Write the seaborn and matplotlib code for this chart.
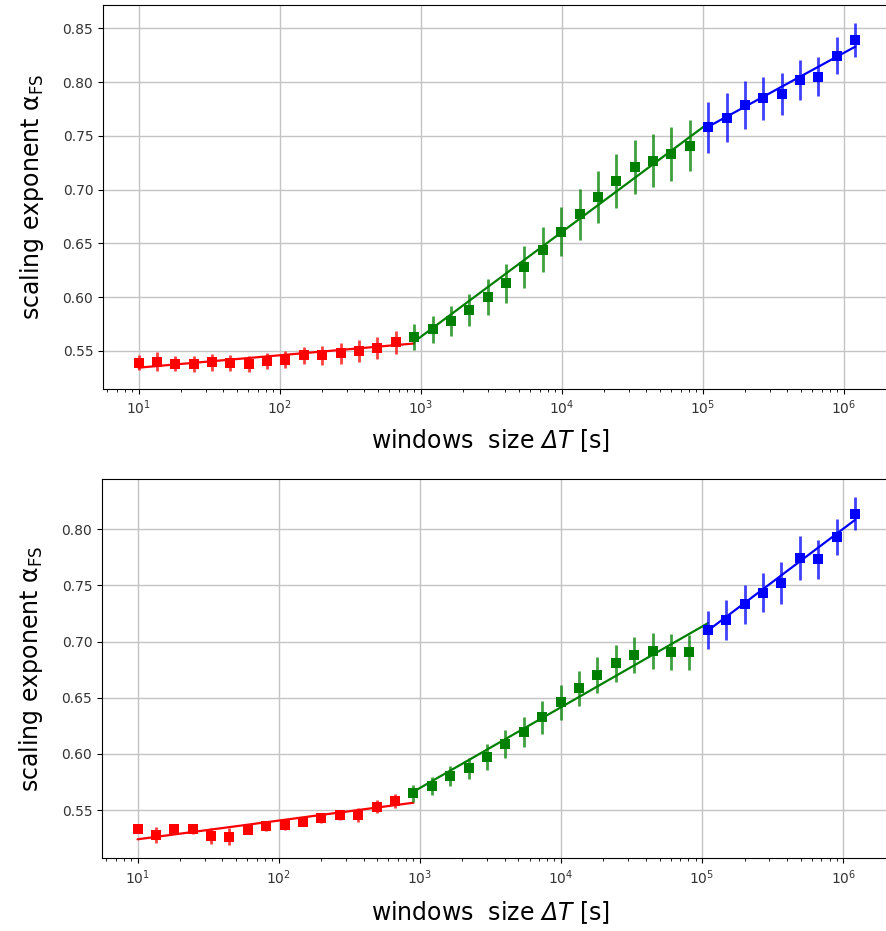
import numpy as np
import pandas as pd
import seaborn as sns
import matplotlib
matplotlib.use("Agg")
import matplotlib.pyplot as plt

# window sizes (s), shared by both panels
window_size = [10, 13.5, 18.2, 24.6, 33.2, 44.8, 60.5, 81.7, 110, 149,
               201, 271, 366, 495, 668, 901, 1217, 1643, 2218, 2994,
               4042, 5457, 7366, 9944, 13425, 18124, 24467, 33030, 44590, 60197,
               81266, 109709, 148107, 199945, 269925, 364399, 491939, 664118, 896560, 1210356]

# segment of each point
segment = ["short"] * 15 + ["mid"] * 16 + ["long"] * 9

# top panel
alpha_top = [0.539, 0.540, 0.538, 0.538, 0.5395, 0.539, 0.538, 0.541, 0.542, 0.546,
             0.546, 0.548, 0.550, 0.553, 0.558,
             0.563, 0.570, 0.578, 0.588, 0.600, 0.613, 0.628, 0.644, 0.661, 0.677,
             0.693, 0.708, 0.721, 0.727, 0.733, 0.741,
             0.758, 0.767, 0.779, 0.785, 0.789, 0.802, 0.805, 0.8245, 0.839]
err_top = [0.007, 0.0088, 0.007, 0.0073, 0.0077, 0.0077, 0.0077, 0.0073, 0.008, 0.008,
           0.0088, 0.0098, 0.0099, 0.010, 0.0104,
           0.012, 0.0124, 0.014, 0.0147, 0.0165, 0.018, 0.0197, 0.0209, 0.0229, 0.0237,
           0.024, 0.0248, 0.0248, 0.0248, 0.025, 0.024,
           0.0236, 0.0229, 0.0222, 0.020, 0.0198, 0.0184, 0.0183, 0.017, 0.016]
# fitted line values at start / end of each segment
fit_top = {"short": [0.5345, 0.557], "mid": [0.5586, 0.7617], "long": [0.7585, 0.8329]}

# bottom panel
alpha_bot = [0.5328, 0.5277, 0.5328, 0.5328, 0.5268, 0.5262, 0.5322, 0.5357, 0.5366, 0.5396,
             0.5426, 0.5455, 0.5455, 0.553, 0.5583,
             0.5648, 0.5714, 0.5803, 0.5871, 0.5972, 0.6088, 0.6197, 0.6326, 0.6459, 0.6584,
             0.6702, 0.6806, 0.6880, 0.6916, 0.6905, 0.6905,
             0.7103, 0.7192, 0.7332, 0.7436, 0.7519, 0.7742, 0.7733, 0.7934, 0.8139]
err_bot = [0.002, 0.0074, 0.004, 0.004, 0.007, 0.0074, 0.004, 0.004, 0.004, 0.004,
           0.004, 0.004, 0.006, 0.0056, 0.0062,
           0.0074, 0.0079, 0.0089, 0.0094, 0.0119, 0.0122, 0.0134, 0.0145, 0.0156, 0.0157,
           0.016, 0.0163, 0.0163, 0.0163, 0.016, 0.0156,
           0.0166, 0.0174, 0.0174, 0.0174, 0.0186, 0.0197, 0.0174, 0.0159, 0.0148]
fit_bot = {"short": [0.5239, 0.5565], "mid": [0.5663, 0.7163], "long": [0.7097, 0.8083]}

# first / last index of each fitted line
fit_range = {"short": (0, 15), "mid": (15, 31), "long": (31, 39)}
colors = {"short": "red", "mid": "green", "long": "blue"}

sns.set_style("ticks", {"axes.grid": True, "grid.color": "#c4c4c4",
                        "axes.edgecolor": "black", "xtick.color": "black",
                        "ytick.color": "black", "axes.labelcolor": "black"})
plt.rcParams["font.family"] = ["DejaVu Sans"]
# mathrm is used for the italic Delta T (mathit keeps Greek capitals upright)
plt.rcParams["mathtext.fontset"] = "custom"
plt.rcParams["mathtext.rm"] = "DejaVu Sans:italic"
plt.rcParams["mathtext.it"] = "DejaVu Sans:italic"

fig = plt.figure(figsize=(8.86, 9.31), dpi=100)
ax1 = fig.add_axes([0.1163, 0.5822, 0.8991, 0.4125])
ax2 = fig.add_axes([0.1151, 0.0781, 0.9000, 0.4074])

panels = [(ax1, alpha_top, err_top, fit_top, (0.5147, 0.8717), [0.55, 0.60, 0.65, 0.70, 0.75, 0.80, 0.85], -0.100),
          (ax2, alpha_bot, err_bot, fit_bot, (0.507, 0.8448), [0.55, 0.60, 0.65, 0.70, 0.75, 0.80], -0.107)]

for ax, alpha, err, fit, ylim, yticks, xlab_y in panels:
    ax.set_xscale("log")
    df = pd.DataFrame({"ws": window_size, "alpha": alpha, "err": err, "seg": segment})
    for seg, c in colors.items():
        d = df[df.seg == seg]
        i0, i1 = fit_range[seg]
        line = pd.DataFrame({"ws": [window_size[i0], window_size[i1]], "alpha": fit[seg]})
        sns.lineplot(data=line, x="ws", y="alpha", color=c, lw=1.6, ax=ax)
        ax.errorbar(d.ws, d.alpha, yerr=d.err, fmt="none", ecolor=c, elinewidth=2, alpha=0.75)
        sns.scatterplot(data=d, x="ws", y="alpha", color=c, marker="s", s=55,
                        edgecolor=c, linewidth=0, ax=ax, zorder=3)
    ax.set_xlim(5.6, 2.5e6)
    ax.set_ylim(*ylim)
    ax.set_yticks(yticks)
    ax.set_yticklabels([f"{t:.2f}" for t in yticks])
    ax.tick_params(labelsize=10, labelcolor="0.2")
    ax.grid(True, which="major", color="#c4c4c4", lw=1)
    ax.set_xlabel(r"windows  size $\mathrm{ΔT}$ [s]", fontsize=17, color="black")
    ax.set_ylabel(r"scaling exponent $\mathregular{\alpha_{FS}}$", fontsize=17, color="black")
    ax.xaxis.set_label_coords(0.487, xlab_y)
    ax.yaxis.set_label_coords(-0.072, 0.5)

fig.savefig("out.png", dpi=100)
